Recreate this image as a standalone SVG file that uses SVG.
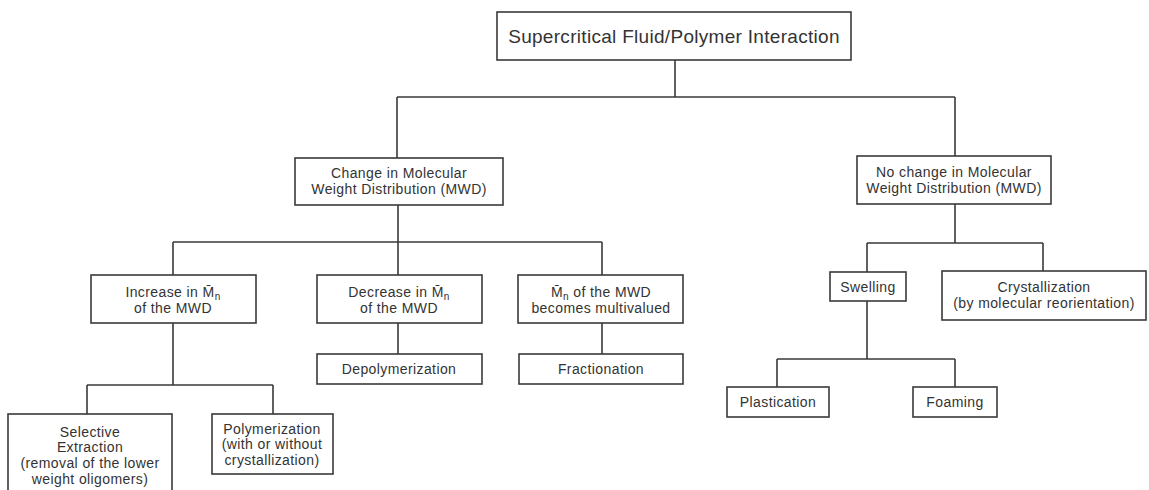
<svg xmlns="http://www.w3.org/2000/svg" width="1149" height="490" viewBox="0 0 1149 490">
<style>
.b{fill:#fff;stroke:#3a3a3a;stroke-width:1.6}
.c{fill:none;stroke:#3a3a3a;stroke-width:1.6}
text{font-family:"Liberation Sans",Arial,sans-serif;font-size:14px;letter-spacing:0.4px;fill:#333;text-anchor:middle}
.t{font-size:19px;letter-spacing:0.3px}
.s{font-size:10px}
</style>
<rect width="1149" height="490" fill="#fff"/>
<g id="connectors">
<path class="c" d="M675 60V97M397 97H955M397 97V158M955 97V156"/>
<path class="c" d="M398 205V242M173 242H602M173 242V275M398 242V275M602 242V275"/>
<path class="c" d="M955 204V243M867 243H1043M867 243V272M1043 243V271"/>
<path class="c" d="M173 323V385M87 385H273M87 385V414M273 385V414"/>
<path class="c" d="M398 323V354M602 323V354"/>
<path class="c" d="M867 301V359M777 359H955M777 359V387M955 359V387"/>
</g>
<g id="root"><rect class="b" x="497" y="12" width="354" height="48"/><text class="t" x="674" y="43">Supercritical Fluid/Polymer Interaction</text></g>
<g id="change"><rect class="b" x="295" y="158" width="208" height="47"/><text x="399" y="178">Change in Molecular</text><text x="399" y="194">Weight Distribution (MWD)</text></g>
<g id="nochange"><rect class="b" x="857" y="156" width="194" height="48"/><text x="954" y="177">No change in Molecular</text><text x="954" y="193">Weight Distribution (MWD)</text></g>
<g id="increase"><rect class="b" x="91" y="275" width="165" height="48"/><text x="173" y="297">Increase in M̄<tspan class="s" dy="3">n</tspan></text><text x="173" y="313">of the MWD</text></g>
<g id="decrease"><rect class="b" x="317" y="275" width="165" height="48"/><text x="399" y="297">Decrease in M̄<tspan class="s" dy="3">n</tspan></text><text x="399" y="313">of the MWD</text></g>
<g id="multivalued"><rect class="b" x="518" y="275" width="165" height="48"/><text x="601" y="297">M̄<tspan class="s" dy="3">n</tspan><tspan dy="-3"> of the MWD</tspan></text><text x="601" y="313">becomes multivalued</text></g>
<g id="depoly"><rect class="b" x="317" y="354" width="165" height="30"/><text x="399" y="374">Depolymerization</text></g>
<g id="fract"><rect class="b" x="519" y="354" width="164" height="30"/><text x="601" y="374">Fractionation</text></g>
<g id="swelling"><rect class="b" x="830" y="272" width="76" height="29"/><text x="868" y="292">Swelling</text></g>
<g id="cryst"><rect class="b" x="942" y="271" width="204" height="49"/><text x="1044" y="292">Crystallization</text><text x="1044" y="308">(by molecular reorientation)</text></g>
<g id="plast"><rect class="b" x="727" y="387" width="102" height="30"/><text x="778" y="407">Plastication</text></g>
<g id="foam"><rect class="b" x="913" y="387" width="84" height="30"/><text x="955" y="407">Foaming</text></g>
<g id="selective"><rect class="b" x="8" y="414" width="164" height="82"/><text x="90" y="437">Selective</text><text x="90" y="452">Extraction</text><text x="90" y="468">(removal of the lower</text><text x="90" y="484">weight oligomers)</text></g>
<g id="polym"><rect class="b" x="212" y="414" width="121" height="60"/><text x="272" y="434">Polymerization</text><text x="272" y="449">(with or without</text><text x="272" y="465">crystallization)</text></g>
</svg>
